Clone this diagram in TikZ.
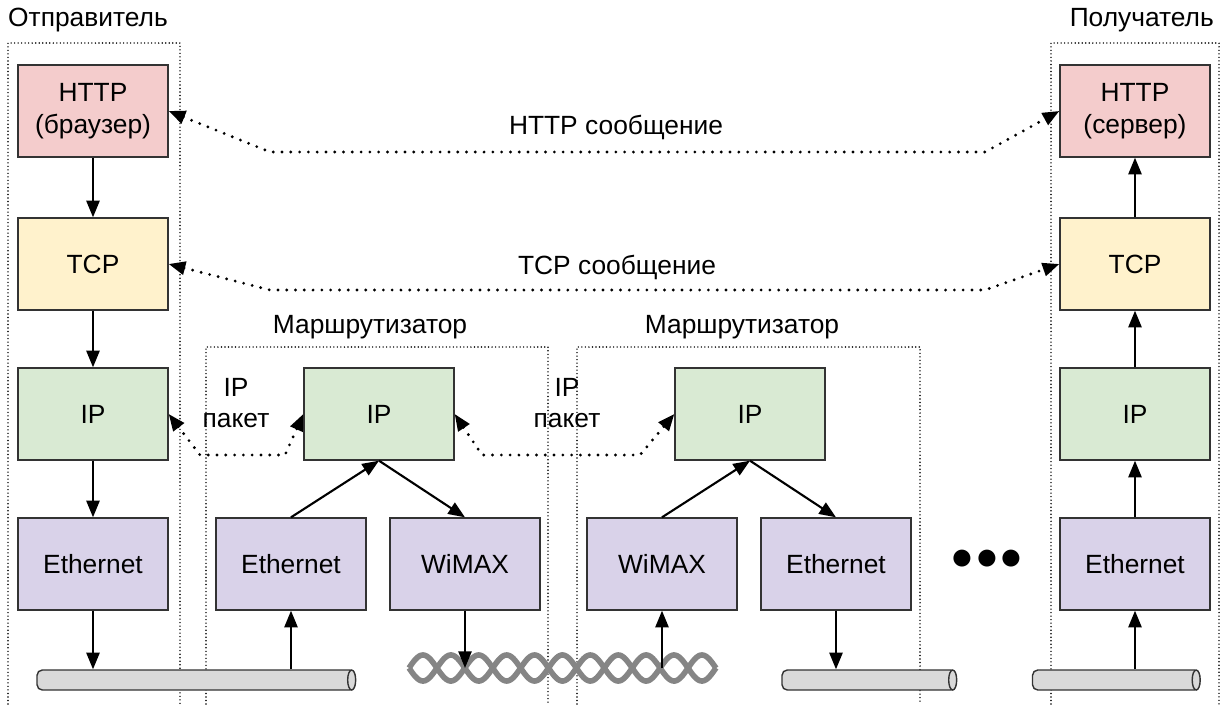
\documentclass[tikz,border=0pt]{standalone}
\usepackage{fontspec}
\setmainfont{Liberation Sans}
\usetikzlibrary{positioning,arrows.meta}
\tikzset{>={Triangle[length=9.5pt,width=7.5pt]}}
\definecolor{httpfill}{HTML}{F4CCCC}
\definecolor{tcpfill}{HTML}{FFF2CC}
\definecolor{ipfill}{HTML}{D9EAD3}
\definecolor{linkfill}{HTML}{D9D2E9}
\definecolor{cablefill}{HTML}{D9D9D9}

\begin{document}
\begin{tikzpicture}[x=0.02cm,y=-0.02cm,font=\fontsize{15}{18}\selectfont,
  layer/.style={draw=black!80,line width=0.8pt,minimum width=3cm,minimum height=1.84cm,align=center,inner sep=0pt},
  httpbox/.style={layer,fill=httpfill},
  tcpbox/.style={layer,fill=tcpfill},
  ipbox/.style={layer,fill=ipfill},
  linkbox/.style={layer,fill=linkfill},
  hostframe/.style={line width=0.9pt,dash pattern=on 0pt off 2pt,line cap=round},
  msg/.style={<->,line width=1.8pt,dash pattern=on 0pt off 5pt,line cap=round},
  flow/.style={->,line width=1.2pt},
  cable/.style={draw=black!80,line width=0.8pt,fill=cablefill,minimum height=0.4cm,rounded corners=3pt,inner sep=0pt},
  cableend/.style={draw=black!80,line width=0.8pt,fill=cablefill},
  strand/.style={black!48,line width=3.2pt}]
\useasboundingbox (0,0) rectangle (1225,704);
% frames
\draw[hostframe] (8,704) -- (8,43) -- (180,43) -- (180,704);
\draw[hostframe] (1051,704) -- (1051,43) -- (1219,43) -- (1219,704);
\draw[hostframe] (206,704) -- (206,347) -- (548,347) -- (548,704);
\draw[hostframe] (577,704) -- (577,347) -- (920,347) -- (920,704);
\node[anchor=west] (sender) at (2,20) {Отправитель};
\node[anchor=east] (receiver) at (1220,20) {Получатель};
\node (routerA) at (370,327) {Маршрутизатор};
\node (routerB) at (742,327) {Маршрутизатор};
% sender
\node[httpbox] (http1) at (93,111) {HTTP\\(браузер)};
\node[tcpbox] (tcp1) at (93,264) {TCP};
\node[ipbox] (ip1) at (93,414) {IP};
\node[linkbox] (eth1) at (93,564) {Ethernet};
% router A
\node[ipbox] (ip2) at (379,414) {IP};
\node[linkbox] (eth2) at (291,564) {Ethernet};
\node[linkbox] (wimax2) at (465,564) {WiMAX};
% router B
\node[ipbox] (ip3) at (750,414) {IP};
\node[linkbox] (wimax3) at (662,564) {WiMAX};
\node[linkbox] (eth3) at (836,564) {Ethernet};
% receiver
\node[httpbox] (http4) at (1135,111) {HTTP\\(сервер)};
\node[tcpbox] (tcp4) at (1135,264) {TCP};
\node[ipbox] (ip4) at (1135,414) {IP};
\node[linkbox] (eth4) at (1135,564) {Ethernet};
\node (dots) at (987,560) {\fontsize{30}{30}\selectfont$\bullet\!\bullet\!\bullet$};
% media
\node[cable,minimum width=6.36cm] (cable1) at (196,680) {};
\node[cable,minimum width=3.48cm] (cable2) at (869,680) {};
\node[cable,minimum width=3.34cm] (cable3) at (1116,680) {};
\foreach \c in {cable1,cable2,cable3}
  \draw[cableend] ([xshift=-0.08cm]\c.east) ellipse [x radius=0.08cm,y radius=0.2cm];
\draw[strand] plot[domain=409:716,samples=240] (\x,{668+13*sin((\x-409)/27.9*180)});
\draw[strand] plot[domain=409:716,samples=240] (\x,{668-13*sin((\x-409)/27.9*180)});
\coordinate (wave) at (562,668);
% stack arrows
\draw[flow] (http1) -- (tcp1);
\draw[flow] (tcp1) -- (ip1);
\draw[flow] (ip1) -- (eth1);
\draw[flow] (eth1) -- (eth1 |- cable1.north);
\draw[flow] (cable1.north -| eth2) -- (eth2);
\draw[flow] (eth2.north) -- (ip2.south);
\draw[flow] (ip2.south) -- (wimax2.north);
\draw[flow] (wimax2) -- (wimax2 |- wave);
\draw[flow] (wave -| wimax3) -- (wimax3);
\draw[flow] (wimax3.north) -- (ip3.south);
\draw[flow] (ip3.south) -- (eth3.north);
\draw[flow] (eth3) -- (eth3 |- cable2.north);
\draw[flow] (cable3.north -| eth4) -- (eth4);
\draw[flow] (eth4) -- (ip4);
\draw[flow] (ip4) -- (tcp4);
\draw[flow] (tcp4) -- (http4);
% peer messages
\draw[msg] (http1.east) -- (270,152) -- (985,152) -- (http4.west);
\node (httpmsg) at (616,127) {HTTP сообщение};
\draw[msg] (tcp1.east) -- (270,290) -- (985,290) -- (tcp4.west);
\node (tcpmsg) at (617,267) {TCP сообщение};
\draw[msg] (ip1.east) -- (200,455) -- (285,455) -- (ip2.west);
\node[align=center] (pkt1) at (236,403) {IP\\пакет};
\draw[msg] (ip2.east) -- (482,455) -- (640,455) -- (ip3.west);
\node[align=center] (pkt2) at (567,403) {IP\\пакет};
\end{tikzpicture}
\end{document}
